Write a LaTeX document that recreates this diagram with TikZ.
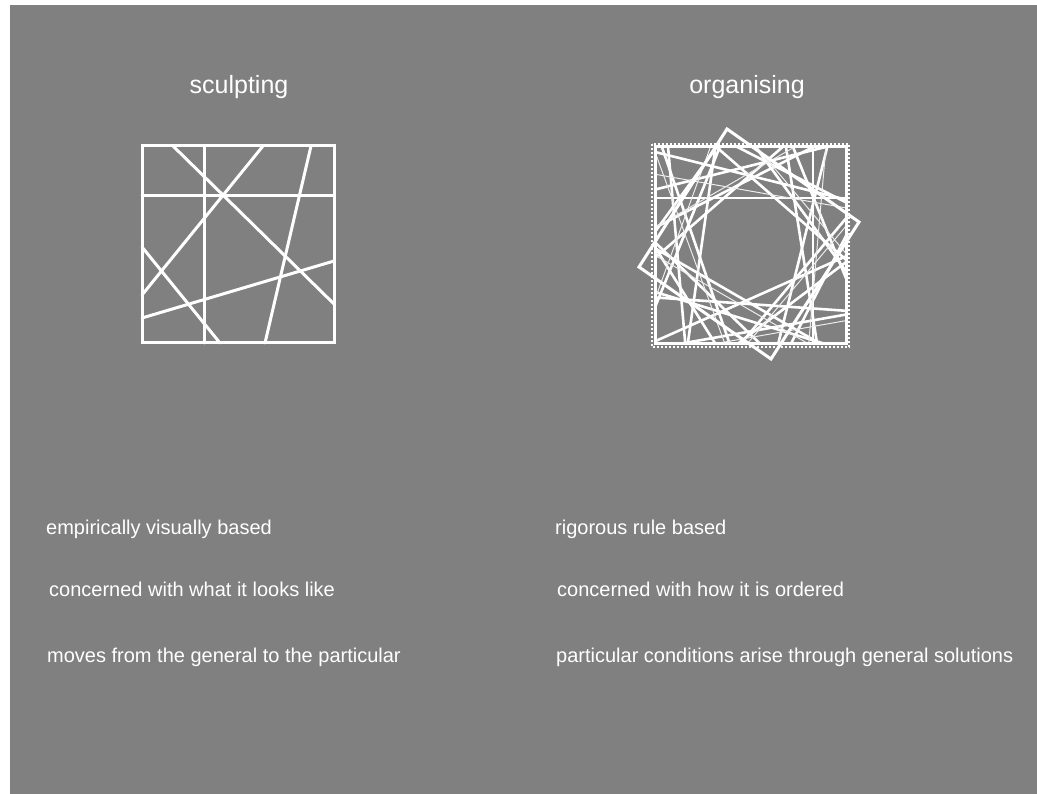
\documentclass[tikz,border=0pt]{standalone}
\usepackage{fontspec}
\setmainfont{Liberation Sans}
\definecolor{bg}{RGB}{128,128,128}
\begin{document}
\begin{tikzpicture}[x=1pt,y=-1pt,
  wl/.style={draw=white,line width=3pt,line cap=round},
  thin/.style={draw=white,line width=2.6pt},
  ghost/.style={draw=white!85!bg,line width=1pt},
  title/.style={text=white,font=\fontsize{25}{30}\selectfont,anchor=base},
  desc/.style={text=white,font=\fontsize{20}{24}\selectfont,anchor=base west,inner sep=0pt}]
\useasboundingbox (0,0) rectangle (1037,794);
\fill[white] (0,0) rectangle (1037,794);
\fill[bg] (10,5) rectangle (1037,794);

% titles
\node[title] (t1) at (239,94) {sculpting};
\node[title] (t2) at (747,94) {organising};

% sculpting figure
\coordinate (a) at (142,146);
\coordinate (b) at (334,343);
\draw[wl] (a) rectangle (b);
\draw[wl] (204,146) -- (204,343);
\draw[wl] (142,196) -- (334,196);
\draw[wl] (173,146) -- (334,304);
\draw[wl] (263,146) -- (142,295);
\draw[wl] (311,146) -- (265,343);
\draw[wl] (142,247) -- (220,343);
\draw[wl] (142,318) -- (334,261);

% organising figure
\coordinate (c) at (751,246);
\begin{scope}
\clip (655,147) rectangle (846,344);
\foreach \t/\d in {0/62,14/50,27/80,40/55,53/70,66/48,80/84,94/58,107/72,120/50,134/64,148/82,161/52,175/74,188/49,202/66,216/86,229/54,243/60,256/78,270/48,284/68,297/82,311/52,324/62,338/76,351/50}{
  \draw[thin] ({751+\d*cos(\t)-220*sin(\t)},{246+\d*sin(\t)+220*cos(\t)}) -- ({751+\d*cos(\t)+220*sin(\t)},{246+\d*sin(\t)-220*cos(\t)});
}
\foreach \t/\d in {5/66,40/60,80/90,120/56,160/58,200/72,240/64,280/54,320/68}{
  \draw[ghost] ({751+\d*cos(\t)-220*sin(\t)},{246+\d*sin(\t)+220*cos(\t)}) -- ({751+\d*cos(\t)+220*sin(\t)},{246+\d*sin(\t)-220*cos(\t)});
}
\end{scope}
\draw[wl] (727,129) -- (859,222) -- (771,359) -- (639,267) -- cycle;
\draw[draw=white,line width=3pt] (655,147) rectangle (846,344);
\draw[draw=white,line width=1.3pt,dash pattern=on 2pt off 2pt] (652,144) rectangle (849,347);

% descriptions
\node[desc] (l1) at (46,534) {empirically visually based};
\node[desc] (l2) at (49,596) {concerned with what it looks like};
\node[desc] (l3) at (47,662) {moves from the general to the particular};
\node[desc] (r1) at (555,534) {rigorous rule based};
\node[desc] (r2) at (557,596) {concerned with how it is ordered};
\node[desc] (r3) at (556,662) {particular conditions arise through general solutions};
\end{tikzpicture}
\end{document}
